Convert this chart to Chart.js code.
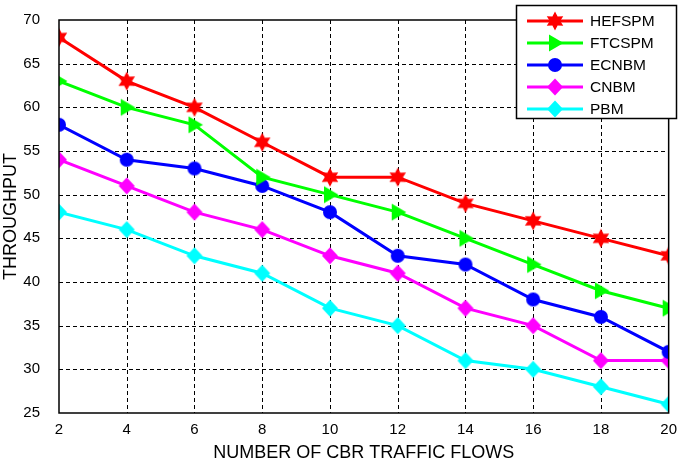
<!DOCTYPE html>
<html>
<head>
<meta charset="utf-8">
<script src="https://cdn.jsdelivr.net/npm/chart.js@4"></script>
<style>
  html, body { margin: 0; padding: 0; background: #fff; }
  #wrap { width: 685px; height: 466px; }
</style>
</head>
<body>
<div id="wrap"><canvas id="tp"></canvas></div>
<script>
// --- data ---
const flows = [2, 4, 6, 8, 10, 12, 14, 16, 18, 20];
const hefspm = [68, 63, 60, 56, 52, 52, 49, 47, 45, 43];
const ftcspm = [63, 60, 58, 52, 50, 48, 45, 42, 39, 37];
const ecnbm  = [58, 54, 53, 51, 48, 43, 42, 38, 36, 32];
const cnbm   = [54, 51, 48, 46, 43, 41, 37, 35, 31, 31];
const pbm    = [48, 46, 43, 41, 37, 35, 31, 30, 28, 26];
const seriesNames = ['HEFSPM', 'FTCSPM', 'ECNBM', 'CNBM', 'PBM'];
const seriesColors = ['#ff0000', '#00ff00', '#0000ff', '#ff00ff', '#00ffff'];
const seriesShapes = ['hexagram', 'triRight', 'circle', 'diamond', 'diamond'];

const FONT = '"Liberation Sans", Arial, sans-serif';

// marker images (MATLAB style filled markers)
function makeMarker(shape, color) {
  const s = 20, c = s / 2;
  const cv = document.createElement('canvas');
  cv.width = s; cv.height = s;
  const g = cv.getContext('2d');
  g.fillStyle = color;
  g.beginPath();
  if (shape === 'hexagram') {
    const r = 9.5;
    for (let k = 0; k < 12; k++) {
      const rr = (k % 2 === 0) ? r : r * 0.55;
      const a = -Math.PI / 2 + k * Math.PI / 6;
      const px = c + rr * Math.cos(a), py = c + rr * Math.sin(a);
      if (k === 0) g.moveTo(px, py); else g.lineTo(px, py);
    }
  } else if (shape === 'triRight') {
    g.moveTo(c + 8.5, c);
    g.lineTo(c - 6, c - 8.5);
    g.lineTo(c - 6, c + 8.5);
  } else if (shape === 'circle') {
    g.arc(c, c, 7, 0, Math.PI * 2);
  } else if (shape === 'diamond') {
    g.moveTo(c, c - 8.5);
    g.lineTo(c + 8, c);
    g.lineTo(c, c + 8.5);
    g.lineTo(c - 8, c);
  }
  g.closePath();
  g.fill();
  return cv;
}
const markers = seriesShapes.map((sh, i) => makeMarker(sh, seriesColors[i]));

const allValues = [hefspm, ftcspm, ecnbm, cnbm, pbm];
const datasets = allValues.map((vals, i) => ({
  label: seriesNames[i],
  data: flows.map((f, j) => ({ x: f, y: vals[j] })),
  borderColor: seriesColors[i],
  backgroundColor: seriesColors[i],
  borderWidth: 3,
  pointStyle: markers[i],
  pointRadius: 9,
  tension: 0
}));

// dashed grid drawn from the scales' ticks
const gridPlugin = {
  id: 'dashGrid',
  beforeDatasetsDraw(chart) {
    const ctx = chart.ctx;
    const a = chart.chartArea;
    const xs = chart.scales.x, ys = chart.scales.y;
    ctx.save();
    ctx.strokeStyle = '#000';
    ctx.lineWidth = 1;
    ctx.setLineDash([4, 3]);
    xs.ticks.forEach(t => {
      const px = Math.round(xs.getPixelForValue(t.value)) + 0.5;
      if (px <= a.left + 1 || px >= a.right - 1) return;
      ctx.beginPath(); ctx.moveTo(px, a.top); ctx.lineTo(px, a.bottom); ctx.stroke();
    });
    ys.ticks.forEach(t => {
      const py = Math.round(ys.getPixelForValue(t.value)) + 0.5;
      if (py <= a.top + 1 || py >= a.bottom - 1) return;
      ctx.beginPath(); ctx.moveTo(a.left, py); ctx.lineTo(a.right, py); ctx.stroke();
    });
    ctx.restore();
  }
};

// frame + MATLAB-like legend box
const framePlugin = {
  id: 'frame',
  afterDraw(chart) {
    const ctx = chart.ctx;
    const a = chart.chartArea;
    ctx.save();
    ctx.strokeStyle = '#000';
    ctx.lineWidth = 1.5;
    ctx.setLineDash([]);
    ctx.strokeRect(a.left, a.top, a.right - a.left, a.bottom - a.top);

    // legend
    const bx = 516.5, by = 5.5, bw = 160, bh = 113;
    ctx.fillStyle = '#fff';
    ctx.fillRect(bx, by, bw, bh);
    ctx.strokeRect(bx, by, bw, bh);
    ctx.font = '15.5px ' + FONT;
    ctx.textBaseline = 'middle';
    seriesNames.forEach((name, i) => {
      const y = 21 + i * 22;
      ctx.strokeStyle = seriesColors[i];
      ctx.lineWidth = 3;
      ctx.beginPath();
      ctx.moveTo(527, y);
      ctx.lineTo(583, y);
      ctx.stroke();
      ctx.drawImage(markers[i], 555 - 10, y - 10);
      ctx.fillStyle = '#000';
      ctx.fillText(name, 590, y + 1);
    });
    ctx.restore();
  }
};

new Chart(document.getElementById('tp'), {
  type: 'line',
  data: { datasets: datasets },
  plugins: [gridPlugin, framePlugin],
  options: {
    responsive: true,
    maintainAspectRatio: false,
    animation: false,
    layout: { padding: { top: 7, right: 9, left: 0, bottom: 0 } },
    plugins: { legend: { display: false }, tooltip: { enabled: false } },
    scales: {
      x: {
        type: 'linear',
        min: 2, max: 20,
        afterFit(scale) { scale.height = 53; },
        ticks: { stepSize: 2, color: '#000', padding: 8,
                 font: { family: FONT, size: 15 } },
        grid: { display: false, drawTicks: false },
        border: { display: false },
        title: { display: true, text: 'NUMBER OF CBR TRAFFIC FLOWS', color: '#000',
                 padding: { top: 5, bottom: 2 },
                 font: { family: FONT, size: 18 } }
      },
      y: {
        min: 25, max: 70,
        afterFit(scale) { scale.width = 59; },
        ticks: { stepSize: 5, color: '#000', padding: 11,
                 font: { family: FONT, size: 15 } },
        grid: { display: false },
        border: { display: false },
        title: { display: true, text: 'THROUGHPUT', color: '#000',
                 padding: { top: 0, bottom: 0 },
                 font: { family: FONT, size: 18 } }
      }
    }
  }
});
</script>
</body>
</html>
